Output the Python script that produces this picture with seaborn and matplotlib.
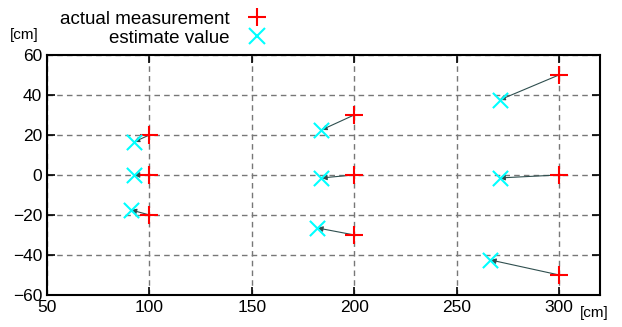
import matplotlib
matplotlib.use('Agg')
import matplotlib.pyplot as plt
import seaborn as sns

# actual measurement points
actual_x = [100, 100, 100, 200, 200, 200, 300, 300, 300]
actual_y = [20, 0, -20, 30, 0, -30, 50, 0, -50]
# estimated points
est_x = [92.5, 92.5, 91, 184, 184, 182, 271, 271, 266.5]
est_y = [16.5, 0, -17.5, 22.5, -1.5, -26.5, 37.5, -1.5, -42.5]

xticks = [50, 100, 150, 200, 250, 300]
yticks = [-60, -40, -20, 0, 20, 40, 60]

sns.set_style('ticks')
plt.rcParams['font.family'] = ['Liberation Sans', 'DejaVu Sans']
plt.rcParams['text.color'] = 'black'
plt.rcParams['xtick.labelcolor'] = 'black'
plt.rcParams['ytick.labelcolor'] = 'black'

fig = plt.figure(figsize=(6.22, 3.27), dpi=100)
ax = fig.add_axes([0.0756, 0.098, 0.889, 0.734])

# arrows from measurement to estimate
for ax_, ay_, ex_, ey_ in zip(actual_x, actual_y, est_x, est_y):
    ax.annotate('', xy=(ex_, ey_), xytext=(ax_, ay_),
                arrowprops=dict(arrowstyle='-|>', color='#2f4f4f', lw=0.8,
                                mutation_scale=8, shrinkA=0, shrinkB=0),
                zorder=2)

sns.scatterplot(x=actual_x, y=actual_y, marker='+', color='red', s=150,
                linewidth=1.5, ax=ax, zorder=3)
sns.scatterplot(x=est_x, y=est_y, marker='x', color='cyan', s=120,
                linewidth=1.5, ax=ax, zorder=3)

ax.set_xlim(50, 320)
ax.set_ylim(-60, 60)
ax.set_xticks(xticks)
ax.set_yticks(yticks)
ax.tick_params(direction='in', top=True, right=True, length=6, width=1.2,
               labelsize=12.5, color='black', labelcolor='black')
ax.grid(True, linestyle='--', color='#777777', linewidth=1.0, dashes=(4, 3))
for sp in ax.spines.values():
    sp.set_linewidth(1.5)
    sp.set_color('black')

fig.text(0.016, 0.88, '[cm]', fontsize=11, color='black')
fig.text(0.932, 0.03, '[cm]', fontsize=11, color='black')

h1 = plt.Line2D([], [], marker='+', color='red', linestyle='none',
                markersize=13, markeredgewidth=1.5)
h2 = plt.Line2D([], [], marker='x', color='cyan', linestyle='none',
                markersize=11, markeredgewidth=1.5)
leg = fig.legend([h1, h2], ['actual measurement', 'estimate value'],
                 loc='upper left', bbox_to_anchor=(0.085, 0.99), frameon=False,
                 markerfirst=False, fontsize=13.5, labelspacing=0.1,
                 handletextpad=0.7, handlelength=1.5, borderaxespad=0)
for t in leg.get_texts():
    t.set_color('black')

fig.savefig('out.png', dpi=100)
